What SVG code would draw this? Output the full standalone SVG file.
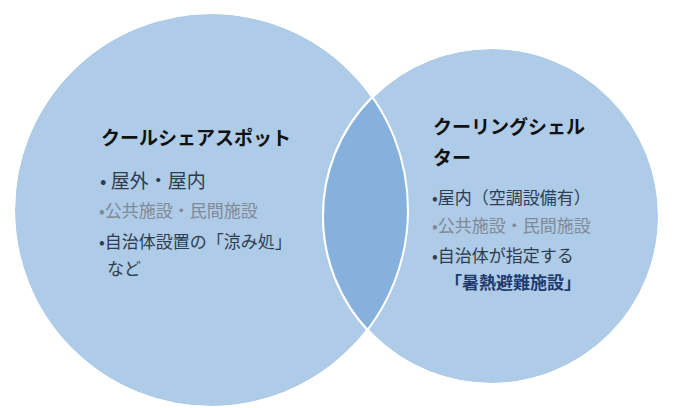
<svg xmlns="http://www.w3.org/2000/svg" width="700" height="408" viewBox="0 0 700 408">
<style>
text{font-family:"Noto Sans CJK JP","Noto Sans",sans-serif}
.c{fill:#aecbe8;stroke:#fff;stroke-width:2}
.t{font-size:19px;font-weight:bold;fill:#111}
.d{font-size:17px;fill:#2e3d4f}
.g{font-size:17px;fill:#808a96}
.n{font-size:17px;font-weight:bold;fill:#1f3a6e}
.b{font-size:19px}
</style>
<defs><clipPath id="cl"><circle cx="211" cy="210" r="197"/></clipPath></defs>
<g id="left"><circle class="c" cx="211" cy="210" r="197"/></g>
<g id="right"><circle class="c" cx="491" cy="216" r="168"/></g>
<g id="overlap"><circle cx="491" cy="216" r="168" fill="#86b1dd" clip-path="url(#cl)"/>
<circle cx="211" cy="210" r="197" fill="none" stroke="#fff" stroke-width="2"/><circle cx="491" cy="216" r="168" fill="none" stroke="#fff" stroke-width="2"/></g>
<g id="left-text">
<text class="t" x="101" y="145">クールシェアスポット</text>
<text class="d b" x="100" y="188">•  屋外・屋内</text>
<text class="g" x="99" y="217">•公共施設・民間施設</text>
<text class="d" x="99" y="248">•自治体設置の「涼み処」</text>
<text class="d" x="107" y="275">など</text>
</g>
<g id="right-text">
<text class="t" x="433" y="134">クーリングシェル</text>
<text class="t" x="433" y="165">ター</text>
<text class="d" x="432" y="204">•屋内（空調設備有）</text>
<text class="g" x="432" y="232">•公共施設・民間施設</text>
<text class="d" x="432" y="262">•自治体が指定する</text>
<text class="n" x="445" y="289">「暑熱避難施設」</text>
</g>
</svg>
